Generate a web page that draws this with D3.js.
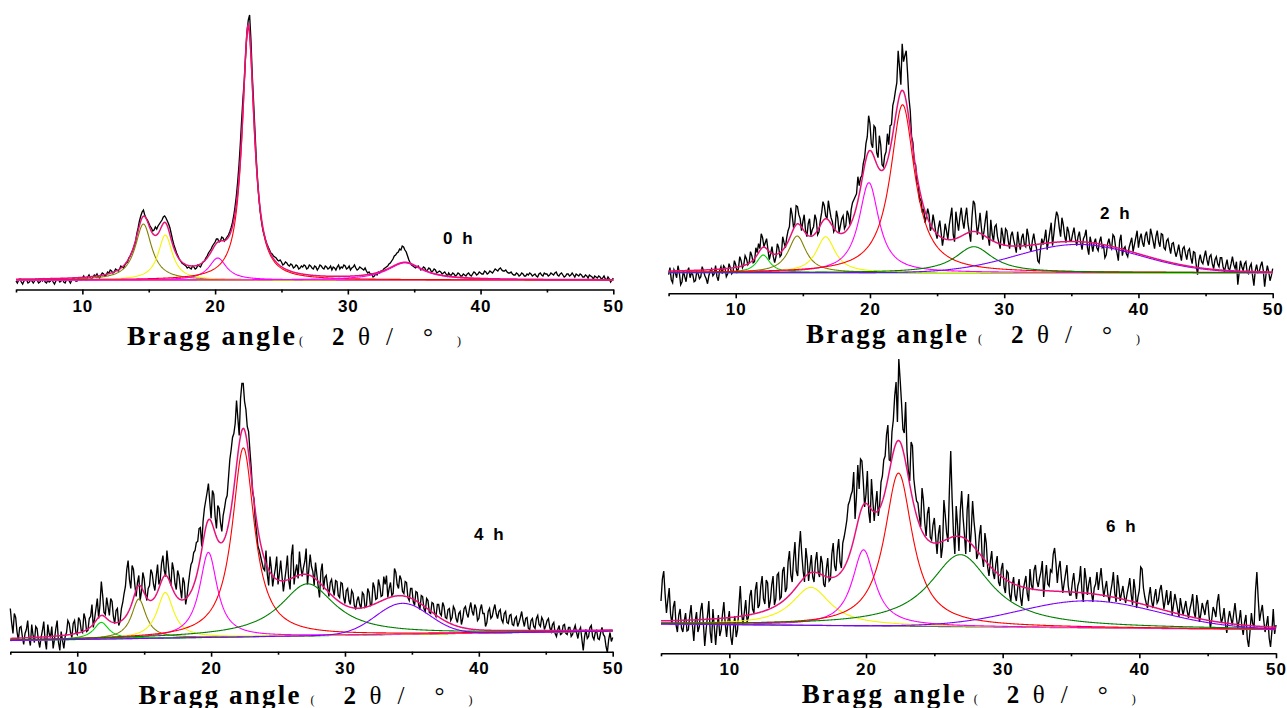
<!DOCTYPE html>
<html>
<head>
<meta charset="utf-8">
<script src="https://cdn.jsdelivr.net/npm/d3@7"></script>
<style>
  html, body { margin: 0; padding: 0; background: #ffffff; }
  svg { display: block; }
</style>
</head>
<body>
<svg id="chart" width="1287" height="708"></svg>
<script>
// ---- sampling grid of the measured patterns (2θ, degrees) ----
const twoThetaStart = 5;
const twoThetaStep = 0.1;

// ---- measured intensity (a.u.), one value per grid step from 5° to 50° ----
const counts0h = [
  -1, -3, 0, 1, -2, -4, -1, 0, 0, -3, -2, 0, -1, -3, -1, 1, 0, -3, -2, 0,
  -1, 1, -2, -3, 0, -2, -1, 1, -2, -4, -1, 0, 0, -2, -1, 1, -2, -3, 0, 1,
  -1, -3, 0, 2, 1, -1, -1, 2, 1, 0, 2, 4, 1, 0, 3, 5, 2, 1, 3, 5,
  4, 6, 3, 2, 5, 7, 6, 4, 5, 8, 7, 10, 9, 7, 8, 11, 10, 9, 11, 14,
  13, 12, 15, 17, 18, 22, 24, 27, 30, 34, 38, 46, 52, 59, 64, 68, 70, 65, 62, 60,
  57, 54, 52, 49, 50, 53, 51, 54, 56, 58, 60, 63, 64, 62, 59, 56, 52, 46, 40, 35,
  31, 27, 24, 21, 19, 17, 16, 15, 14, 12, 13, 12, 11, 14, 13, 11, 12, 15, 14, 13,
  16, 18, 19, 22, 24, 27, 29, 31, 34, 36, 38, 41, 41, 38, 39, 43, 42, 39, 41, 43,
  45, 48, 52, 57, 64, 73, 84, 98, 115, 136, 160, 182, 200, 226, 248, 260, 265, 240, 205, 178,
  150, 122, 100, 82, 68, 58, 50, 45, 40, 36, 33, 30, 27, 26, 24, 23, 22, 20, 19, 20,
  18, 15, 16, 18, 17, 15, 14, 16, 15, 12, 13, 15, 14, 11, 12, 14, 13, 15, 14, 11,
  12, 15, 14, 12, 11, 14, 13, 10, 12, 15, 14, 12, 11, 14, 13, 11, 12, 14, 10, 13,
  12, 10, 13, 15, 11, 13, 12, 15, 14, 11, 12, 14, 10, 12, 13, 15, 12, 10, 11, 13,
  12, 11, 10, 12, 9, 7, 8, 6, 6, 3, 4, 6, 5, 8, 7, 9, 9, 11, 12, 13,
  14, 16, 17, 19, 21, 24, 25, 27, 28, 31, 30, 34, 33, 30, 28, 24, 20, 17, 15, 14,
  13, 12, 13, 14, 12, 10, 11, 13, 12, 9, 10, 12, 11, 8, 9, 11, 10, 7, 8, 9,
  8, 6, 7, 8, 6, 4, 7, 5, 5, 7, 6, 4, 5, 7, 6, 4, 4, 6, 5, 4,
  6, 7, 5, 4, 6, 8, 7, 5, 6, 8, 7, 6, 6, 9, 8, 6, 7, 9, 8, 7,
  9, 11, 10, 9, 11, 12, 10, 9, 9, 10, 8, 7, 7, 8, 6, 5, 5, 7, 6, 4,
  5, 7, 6, 4, 4, 6, 5, 7, 6, 4, 5, 6, 4, 3, 6, 7, 5, 4, 7, 6,
  6, 4, 5, 7, 6, 5, 7, 8, 5, 4, 6, 7, 5, 3, 4, 6, 6, 4, 5, 7,
  5, 3, 6, 5, 4, 6, 5, 3, 3, 5, 4, 2, 5, 4, 3, 1, 4, 3, 2, 4,
  3, 1, 2, 4, 1, 0, 3, 1, -2, 0, 2
];
const counts2h = [
  -2, 5, -7, -10, 3, 0, -5, 7, 0, -12, -9, 2, -4, -9, 1, 5, -5, 0, -2, -9,
  -8, 1, -1, -6, -4, 6, 2, -3, -6, -11, -3, 2, 4, -3, -1, 7, -4, -8, 2, 6,
  -1, 7, 5, -4, -1, 9, 5, -1, 1, 12, 8, 1, 4, 16, 12, 5, 8, 17, 14, 8,
  10, 21, 17, 10, 11, 25, 20, 29, 24, 39, 35, 26, 30, 34, 23, 13, 19, 26, 16, 10,
  16, 29, 25, 16, 18, 36, 30, 25, 35, 42, 46, 65, 58, 46, 49, 67, 66, 58, 54, 42,
  51, 58, 42, 36, 49, 54, 37, 43, 46, 58, 53, 38, 41, 52, 60, 71, 67, 57, 54, 72,
  63, 55, 51, 41, 44, 62, 55, 40, 47, 54, 57, 44, 47, 62, 58, 48, 63, 70, 73, 76,
  79, 96, 87, 95, 97, 109, 115, 129, 136, 157, 149, 129, 125, 147, 145, 120, 115, 137, 128, 108,
  106, 117, 121, 139, 128, 147, 148, 167, 173, 182, 190, 222, 206, 188, 229, 211, 217, 222, 200, 175,
  162, 136, 130, 110, 108, 90, 88, 72, 74, 60, 64, 50, 56, 64, 58, 42, 46, 58, 50, 40,
  34, 45, 52, 40, 27, 36, 49, 42, 33, 47, 56, 65, 38, 31, 61, 51, 42, 56, 65, 52,
  44, 56, 65, 49, 40, 31, 56, 72, 69, 53, 38, 47, 60, 45, 33, 42, 53, 62, 36, 27,
  53, 39, 31, 46, 48, 36, 30, 24, 45, 37, 27, 44, 42, 32, 24, 37, 41, 33, 27, 20,
  41, 30, 23, 35, 39, 28, 26, 44, 37, 25, 21, 32, 39, 30, 25, 12, 10, 23, 34, 28,
  34, 43, 23, 32, 41, 50, 27, 39, 52, 61, 57, 45, 36, 55, 48, 37, 30, 46, 41, 32,
  32, 39, 45, 34, 27, 36, 41, 30, 23, 34, 37, 43, 25, 18, 36, 29, 21, 30, 34, 25,
  22, 31, 36, 25, 27, 15, 18, 29, 34, 27, 24, 38, 36, 25, 20, 12, 32, 38, 17, 24,
  26, 19, 16, 25, 30, 35, 21, 28, 35, 42, 25, 34, 39, 30, 26, 37, 41, 32, 28, 44,
  38, 31, 24, 36, 42, 31, 26, 39, 38, 25, 23, 32, 34, 26, 19, 29, 30, 22, 16, 21,
  28, 19, 12, 24, 26, 19, 13, 22, 24, 15, 9, 21, 20, 8, -2, 12, 18, 11, 9, 16,
  22, 13, 7, 16, 18, 9, 4, 13, 16, 9, 6, 15, 15, 6, 1, 7, 13, 4, 3, 9,
  16, 8, 4, 11, -12, 0, 12, 6, 2, 9, 11, 0, -1, 6, 9, -3, -13, 2, 8, 0,
  1, 7, 11, 2, -14, -2, 7, 1, -8, -3, 4
];
const counts4h = [
  32, 18, 7, 27, 23, 9, 0, 13, 14, 4, -4, 7, 11, 20, 2, -5, 16, 5, -2, 14,
  12, 0, -7, 3, 10, 19, 0, -9, 16, 7, 3, 14, -8, 1, 12, 20, -2, -10, 9, 0,
  -8, 4, 8, 20, 17, 8, 3, 17, 20, 8, 6, 23, 20, 10, 8, 27, 22, 9, 10, 22,
  24, 36, 13, 22, 32, 42, 22, 36, 59, 45, 28, 26, 43, 34, 25, 42, 39, 24, 17, 30,
  32, 15, 19, 32, 38, 47, 54, 71, 80, 61, 52, 75, 71, 56, 44, 58, 65, 40, 49, 68,
  62, 47, 40, 52, 55, 71, 67, 56, 50, 64, 76, 56, 61, 77, 85, 70, 64, 90, 76, 61,
  55, 78, 71, 57, 51, 70, 65, 52, 42, 63, 58, 36, 44, 56, 67, 76, 79, 88, 90, 98,
  99, 112, 113, 94, 119, 132, 140, 148, 157, 139, 122, 150, 146, 124, 112, 135, 132, 118, 109, 125,
  132, 141, 145, 163, 181, 191, 203, 207, 217, 240, 222, 205, 242, 257, 257, 239, 231, 214, 209, 190,
  172, 148, 142, 120, 108, 94, 90, 84, 78, 72, 70, 90, 66, 55, 84, 72, 54, 64, 72, 84,
  56, 67, 80, 64, 49, 60, 71, 85, 60, 51, 85, 96, 56, 69, 76, 62, 89, 74, 64, 73,
  79, 92, 56, 71, 86, 74, 69, 55, 78, 66, 54, 43, 69, 77, 51, 63, 65, 54, 44, 58,
  61, 51, 45, 60, 59, 45, 43, 58, 57, 43, 37, 50, 52, 40, 36, 50, 47, 35, 31, 40,
  44, 36, 32, 48, 46, 33, 34, 52, 48, 35, 36, 58, 53, 41, 42, 61, 55, 44, 45, 64,
  56, 65, 43, 52, 58, 45, 47, 72, 68, 56, 52, 65, 61, 49, 47, 59, 58, 43, 40, 52,
  52, 39, 35, 49, 48, 36, 31, 45, 44, 32, 29, 42, 40, 28, 27, 38, 37, 27, 24, 36,
  36, 27, 25, 38, 34, 23, 22, 31, 32, 20, 23, 34, 31, 22, 18, 27, 29, 16, 22, 32,
  34, 27, 23, 32, 38, 29, 25, 36, 32, 20, 22, 31, 36, 27, 27, 14, 18, 29, 32, 22,
  24, 31, 36, 27, 22, 29, 31, 21, 18, 27, 29, 18, 17, 25, 26, 16, 15, 22, 24, 14,
  18, 23, 29, 20, 14, 22, 23, 12, 11, 20, 22, 14, 12, 22, 25, 16, 14, 23, 20, 11,
  15, 20, 22, 13, 9, 16, 18, 7, 4, 11, 15, 6, 7, 15, 16, 7, 6, 13, 13, 4,
  6, 11, 15, 8, 2, 10, 13, 1, -10, 4, 11, 2, 4, 13, 15, 4, 1, 8, 10, 2,
  1, 8, 13, 6, 4, -6, -12, 1, 8, -1, 3
];
const counts6h = [
  30, 52, 60, 37, 18, 31, 43, 17, 7, 24, 30, 6, -1, 16, 22, 3, -1, 10, 18, 0,
  1, 15, 26, 6, -10, 10, 19, -1, 4, 21, 28, 8, -15, 1, 15, 30, -1, -12, 22, 4,
  -14, 4, 16, -5, 1, 17, 29, 7, -6, 10, 20, -5, -14, 2, 15, -6, 1, 25, 45, 18,
  6, 19, 31, 9, 14, 35, 41, 22, 18, 41, 49, 23, 26, 45, 55, 32, 27, 51, 48, 23,
  30, 46, 55, 26, 32, 56, 58, 32, 34, 60, 64, 39, 43, 69, 80, 56, 49, 72, 89, 60,
  55, 82, 100, 77, 60, 49, 83, 71, 50, 64, 76, 54, 49, 70, 79, 59, 54, 75, 68, 47,
  44, 62, 73, 50, 52, 77, 88, 65, 60, 80, 92, 69, 63, 88, 94, 102, 111, 126, 130, 136,
  140, 159, 112, 134, 166, 142, 172, 170, 150, 124, 137, 160, 119, 108, 152, 131, 110, 126, 140, 115,
  126, 149, 155, 171, 175, 196, 206, 171, 170, 199, 211, 235, 249, 209, 272, 251, 228, 202, 198, 229,
  180, 160, 150, 189, 185, 152, 140, 130, 128, 115, 104, 143, 131, 108, 95, 118, 124, 94, 91, 106,
  113, 93, 77, 97, 106, 73, 84, 131, 116, 98, 89, 140, 180, 133, 98, 77, 125, 106, 80, 120,
  140, 114, 97, 77, 121, 137, 79, 100, 130, 110, 96, 72, 77, 96, 106, 74, 64, 98, 88, 64,
  55, 70, 80, 58, 52, 67, 75, 49, 45, 62, 68, 44, 38, 60, 58, 37, 30, 46, 54, 36,
  30, 43, 52, 34, 25, 41, 48, 55, 37, 30, 62, 46, 41, 61, 66, 50, 44, 53, 59, 70,
  34, 52, 66, 47, 45, 61, 59, 77, 83, 68, 48, 63, 70, 52, 38, 48, 57, 66, 45, 36,
  36, 49, 58, 43, 32, 45, 50, 65, 40, 29, 63, 52, 36, 47, 54, 38, 29, 43, 47, 59,
  41, 52, 63, 47, 34, 43, 50, 36, 29, 39, 47, 59, 38, 29, 56, 45, 30, 38, 45, 34,
  28, 37, 44, 53, 37, 26, 52, 41, 23, 34, 41, 64, 62, 43, 34, 28, 23, 35, 44, 30,
  23, 34, 42, 28, 31, 41, 46, 34, 22, 31, 41, 26, 30, 40, 16, 26, 37, 30, 22, 14,
  33, 24, 16, 23, 30, 20, 13, 22, 28, 37, 19, 13, 36, 26, 9, 17, 28, 22, 16, 27,
  31, 15, 3, 12, 24, 20, 14, 29, 37, 19, 8, 13, 23, 7, -2, 11, 20, 13, 6, 17,
  28, 14, 3, 10, 21, 5, -4, 9, 16, -8, -16, 0, 18, 7, 5, 40, 59, 32, 10, 19,
  26, 11, -1, 6, 15, -7, -16, 0, 22, -3, 6
];

// ---- peak-fit results: centre (°), height above baseline (a.u.), FWHM (°), profile ----
const peaks0hCenter = [14.6, 16.25, 20.2, 22.5, 34.3];
const peaks0hHeight = [56, 45, 22, 252, 17];
const peaks0hFwhm   = [1.5, 1.3, 1.6, 1.1, 3.2];
const peaks0hShape  = ["L", "L", "L", "L", "L"];
const baseline0h    = [0, 0];            // baseline at 5° and at 50°

const peaks2hCenter = [12.05, 14.58, 16.7, 19.92, 22.43, 27.74, 35.5];
const peaks2hHeight = [17.7, 36.7, 36, 90, 168, 26, 28.3];
const peaks2hFwhm   = [1.2, 1.6, 1.7, 1.8, 2.2, 3.4, 10.8];
const peaks2hShape  = ["L", "L", "L", "L", "L", "L", "G"];
const baseline2h    = [0, 0];

const peaks4hCenter = [11.8, 14.6, 16.58, 19.8, 22.41, 27.2, 34.3];
const peaks4hHeight = [16.7, 39.5, 45.5, 85, 189, 52, 31];
const peaks4hFwhm   = [1.35, 1.3, 1.5, 1.6, 2.0, 5.0, 4.7];
const peaks4hShape  = ["L", "L", "L", "L", "L", "L", "G"];
const baseline4h    = [0, 9.5];

const peaks6hCenter = [15.97, 19.82, 22.38, 26.9, 36.3];
const peaks6hHeight = [38, 76, 153, 72, 27];
const peaks6hFwhm   = [3.4, 2.0, 2.5, 5.5, 12];
const peaks6hShape  = ["L", "L", "L", "L", "G"];
const baseline6h    = [7, 1.5];

// ---- labels ----
const sampleLabels = ["0 h", "2 h", "4 h", "6 h"];
const majorTicks = [10, 20, 30, 40, 50];
const minorTicks = [5, 15, 25, 35, 45];
const axisTitleParts = ["Bragg angle", "(", "2", "θ", "/", "°", ")"];

// ---- styles ----
const C = {
  olive: "#808000", yellow: "#f4f400", magenta: "#ff00ff", red: "#ff0000",
  dkgreen: "#008000", green: "#00d400", violet: "#8000ff",
  fit: "#e8137a", data: "#000000"
};
const peaks0hColor = [C.olive, C.yellow, C.magenta, C.red, C.magenta];
const peaks2hColor = [C.green, C.olive, C.yellow, C.magenta, C.red, C.dkgreen, C.violet];
const peaks4hColor = [C.green, C.olive, C.yellow, C.magenta, C.red, C.dkgreen, C.violet];
const peaks6hColor = [C.yellow, C.magenta, C.red, C.dkgreen, C.violet];
const baselineColors = ["#b8860b", C.green, C.green, "#6e6e6e"];

// ---- panel placement on the page ----
const layout = [
  { x0: 16,    x1: 613.3,  axisY: 289.5, zeroY: 280,   titleX: 127,   titleY: 345,   titleW: 168, titleSize: 28, tagX: 443,  tagY: 244 },
  { x0: 668.6, x1: 1272.7, axisY: 293.3, zeroY: 272.7, titleX: 806,   titleY: 343,   titleW: 161, titleSize: 27, tagX: 1100, tagY: 219 },
  { x0: 10.3,  x1: 612.7,  axisY: 651.7, zeroY: 640.5, titleX: 138.5, titleY: 703.5, titleW: 161, titleSize: 27, tagX: 474,  tagY: 540 },
  { x0: 661,   x1: 1276,   axisY: 653.3, zeroY: 631,   titleX: 801.7, titleY: 702.5, titleW: 163, titleSize: 27, tagX: 1106, tagY: 532 }
];
const titleOffsets = [0, 172, 205, 231, 259, 296, 330];
const serif = "'Liberation Serif','Times New Roman',serif";
const titleStyles = [
  { size: null, weight: "bold" },
  { size: 12, weight: "normal" },
  { size: 25, weight: "bold" },
  { size: 25, weight: "normal" },
  { size: 25, weight: "normal" },
  { size: 25, weight: "normal" },
  { size: 12, weight: "normal" }
];

const panels = [
  { counts: counts0h, c: peaks0hCenter, h: peaks0hHeight, w: peaks0hFwhm, s: peaks0hShape, col: peaks0hColor, base: baseline0h },
  { counts: counts2h, c: peaks2hCenter, h: peaks2hHeight, w: peaks2hFwhm, s: peaks2hShape, col: peaks2hColor, base: baseline2h },
  { counts: counts4h, c: peaks4hCenter, h: peaks4hHeight, w: peaks4hFwhm, s: peaks4hShape, col: peaks4hColor, base: baseline4h },
  { counts: counts6h, c: peaks6hCenter, h: peaks6hHeight, w: peaks6hFwhm, s: peaks6hShape, col: peaks6hColor, base: baseline6h }
];

// peak profiles: Lorentzian ("L") or Gaussian ("G")
function profile(shape, t, c, h, fwhm) {
  const d = t - c;
  if (shape === "G") return h * Math.exp(-4 * Math.LN2 * d * d / (fwhm * fwhm));
  const hw = fwhm / 2;
  return h / (1 + (d / hw) * (d / hw));
}

const svg = d3.select("#chart");
const fitGrid = d3.range(0, 901).map(i => 5 + i * 0.05);

panels.forEach((p, k) => {
  const L = layout[k];
  const g = svg.append("g");

  const x = d3.scaleLinear().domain([5, 50]).range([L.x0, L.x1]);
  const y = d3.scaleLinear().domain([0, 100]).range([L.zeroY, L.zeroY - 100]);
  const baseAt = t => p.base[0] + (p.base[1] - p.base[0]) * (t - 5) / 45;

  const line = d3.line().x(d => x(d[0])).y(d => y(d[1]));

  // measured pattern
  const measured = p.counts.map((v, i) => [twoThetaStart + i * twoThetaStep, v]);
  g.append("path").attr("d", line(measured))
    .attr("fill", "none").attr("stroke", C.data)
    .attr("stroke-width", 1.35).attr("stroke-linejoin", "miter");

  // baseline
  g.append("path").attr("d", line(fitGrid.map(t => [t, baseAt(t)])))
    .attr("fill", "none").attr("stroke", baselineColors[k]).attr("stroke-width", 1.3);

  // individual fitted peaks, drawn on the baseline
  p.c.forEach((c, j) => {
    const pts = fitGrid.map(t => [t, baseAt(t) + profile(p.s[j], t, c, p.h[j], p.w[j])]);
    g.append("path").attr("d", line(pts))
      .attr("fill", "none").attr("stroke", p.col[j]).attr("stroke-width", 1.1);
  });

  // cumulative fit
  const sum = fitGrid.map(t => [t, baseAt(t) + d3.sum(p.c, (c, j) => profile(p.s[j], t, c, p.h[j], p.w[j]))]);
  g.append("path").attr("d", line(sum))
    .attr("fill", "none").attr("stroke", C.fit).attr("stroke-width", 1.5);

  // x axis: labelled major ticks and short minor ticks
  const axMajor = g.append("g").attr("transform", `translate(0,${L.axisY})`)
    .call(d3.axisBottom(x).tickValues(majorTicks).tickSize(5).tickSizeOuter(0).tickFormat(d3.format("d")));
  const axMinor = g.append("g").attr("transform", `translate(0,${L.axisY})`)
    .call(d3.axisBottom(x).tickValues(minorTicks).tickSize(3).tickSizeOuter(0).tickFormat(""));
  [axMajor, axMinor].forEach(a => {
    a.select(".domain").attr("stroke", "#000").attr("stroke-width", 1.6);
    a.selectAll(".tick line").attr("stroke", "#000").attr("stroke-width", 1.6);
  });
  axMinor.select(".domain").remove();
  axMajor.selectAll(".tick text")
    .attr("y", 22).attr("dy", 0)
    .attr("font-family", "'Liberation Sans', Arial, sans-serif")
    .attr("font-weight", "bold").attr("font-size", 17)
    .attr("letter-spacing", "1px").attr("fill", "#000");

  // axis title
  axisTitleParts.forEach((txt, j) => {
    const st = titleStyles[j];
    const t = g.append("text")
      .attr("x", L.titleX + titleOffsets[j]).attr("y", L.titleY)
      .attr("font-family", serif).attr("font-weight", st.weight)
      .attr("font-size", st.size === null ? L.titleSize : st.size).attr("fill", "#000")
      .text(txt);
    if (j === 0) t.attr("textLength", L.titleW).attr("lengthAdjust", "spacing");
  });

  // sample label
  g.append("text")
    .attr("x", L.tagX).attr("y", L.tagY)
    .attr("font-family", "'Liberation Sans', Arial, sans-serif")
    .attr("font-weight", "bold").attr("font-size", 17)
    .attr("letter-spacing", "2.5px").attr("fill", "#000")
    .text(sampleLabels[k]);
});
</script>
</body>
</html>
